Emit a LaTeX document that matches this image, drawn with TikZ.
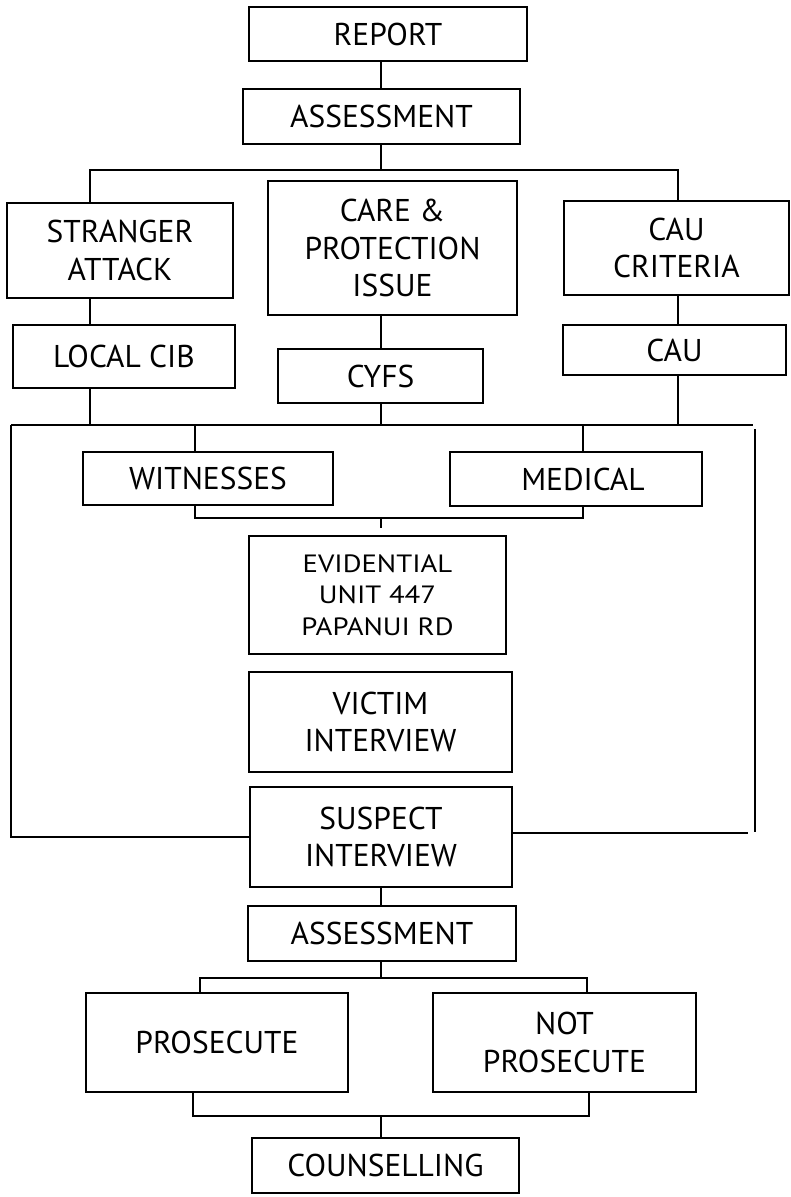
\documentclass[tikz,border=0pt]{standalone}
\usepackage{fontspec}
\setmainfont{PT Sans}
\newfontfamily\evfont[FakeStretch=1.15]{PT Sans}
\newcommand\mkbox[6]{%
  \node[box, minimum width={#3pt-#2pt}, minimum height={#5pt-#4pt}] (#1) at ({(#2+#3)/2},{(#4+#5)/2}) {#6};}
\begin{document}
\begin{tikzpicture}[x=1pt,y=-1pt,
  box/.style={draw, line width=2.6pt, inner sep=0pt, align=center, font=\fontsize{31.5}{37.5}\selectfont},
  small/.style={font=\evfont\fontsize{25}{31.7}\selectfont},
  ln/.style={line width=2.2pt}]
\useasboundingbox (0,0) rectangle (791,1197);
% boxes
\mkbox{report}{249}{527}{7}{61}{REPORT}
\mkbox{assessA}{243}{520}{89}{144}{ASSESSMENT}
\mkbox{stranger}{7}{233}{203}{298}{STRANGER\\ATTACK}
\mkbox{care}{268}{517}{181}{315}{CARE \&\\PROTECTION\\ISSUE}
\mkbox{caucrit}{564}{789}{201}{295}{CAU\\CRITERIA}
\mkbox{localcib}{13}{235}{325}{388}{LOCAL CIB}
\mkbox{cyfs}{278}{483}{349}{403}{CYFS}
\mkbox{cau}{563}{786}{325}{375}{CAU}
\mkbox{witnesses}{83}{333}{452}{505}{WITNESSES}
\mkbox{medical}{450}{702}{452}{506}{\hspace*{14pt}MEDICAL}
\begin{scope}[box/.append style={small}]
\mkbox{evid}{249}{506}{536}{654}{EVIDENTIAL\\UNIT 447\\PAPANUI RD}
\end{scope}
\mkbox{victim}{249}{512}{672}{772}{VICTIM\\INTERVIEW}
\mkbox{suspect}{250}{512}{787}{887}{SUSPECT\\INTERVIEW}
\mkbox{assessB}{248}{516}{906}{961}{ASSESSMENT}
\mkbox{prosecute}{86}{348}{993}{1092}{PROSECUTE}
\mkbox{notpros}{433}{696}{993}{1092}{NOT\\PROSECUTE}
\mkbox{counsel}{252}{519}{1138}{1193}{COUNSELLING}
% coordinates
\coordinate (busL) at (90,170);
\coordinate (busM) at (381,170);
\coordinate (busR) at (678,170);
\coordinate (b2L) at (11,425);
\coordinate (b2R) at (753,425);
\coordinate (wx) at (195,425);
\coordinate (mx) at (583,425);
\coordinate (j1) at (381,518);
\coordinate (evtop) at (381,528);
\coordinate (rTop) at (755,429);
\coordinate (rBot) at (755,832);
\coordinate (rE) at (748,833);
\coordinate (pA) at (200,978);
\coordinate (pB) at (587,978);
\coordinate (qA) at (193,1116);
\coordinate (qB) at (589,1116);
% connectors
\draw[ln] (report.south -| busM) -- (assessA.north -| busM);
\draw[ln] (assessA.south -| busM) -- (busM);
\draw[ln] (busL |- stranger.north) -- (busL) -- (busR) -- (busR |- caucrit.north);
\draw[ln] (busL |- stranger.south) -- (busL |- localcib.north);
\draw[ln] (busM |- care.south) -- (busM |- cyfs.north);
\draw[ln] (busR |- caucrit.south) -- (busR |- cau.north);
\draw[ln] (busL |- localcib.south) -- (busL |- b2L);
\draw[ln] (busM |- cyfs.south) -- (busM |- b2L);
\draw[ln] (busR |- cau.south) -- (busR |- b2L);
\draw[ln] (b2L) -- (b2R);
\draw[ln] (b2L) |- (suspect.west);
\draw[ln] (rTop) -- (rBot);
\draw[ln] (suspect.east |- rE) -- (rE);
\draw[ln] (wx) -- (wx |- witnesses.north);
\draw[ln] (mx) -- (mx |- medical.north);
\draw[ln] (wx |- witnesses.south) |- (j1) -| (mx |- medical.south);
\draw[ln] (j1) -- (evtop);
\draw[ln] (busM |- suspect.south) -- (busM |- assessB.north);
\draw[ln] (busM |- assessB.south) -- (busM |- pA);
\draw[ln] (pA |- prosecute.north) -- (pA) -- (pB) -- (pB |- notpros.north);
\draw[ln] (qA |- prosecute.south) -- (qA) -- (qB) -- (qB |- notpros.south);
\draw[ln] (busM |- qA) -- (busM |- counsel.north);
\end{tikzpicture}
\end{document}
